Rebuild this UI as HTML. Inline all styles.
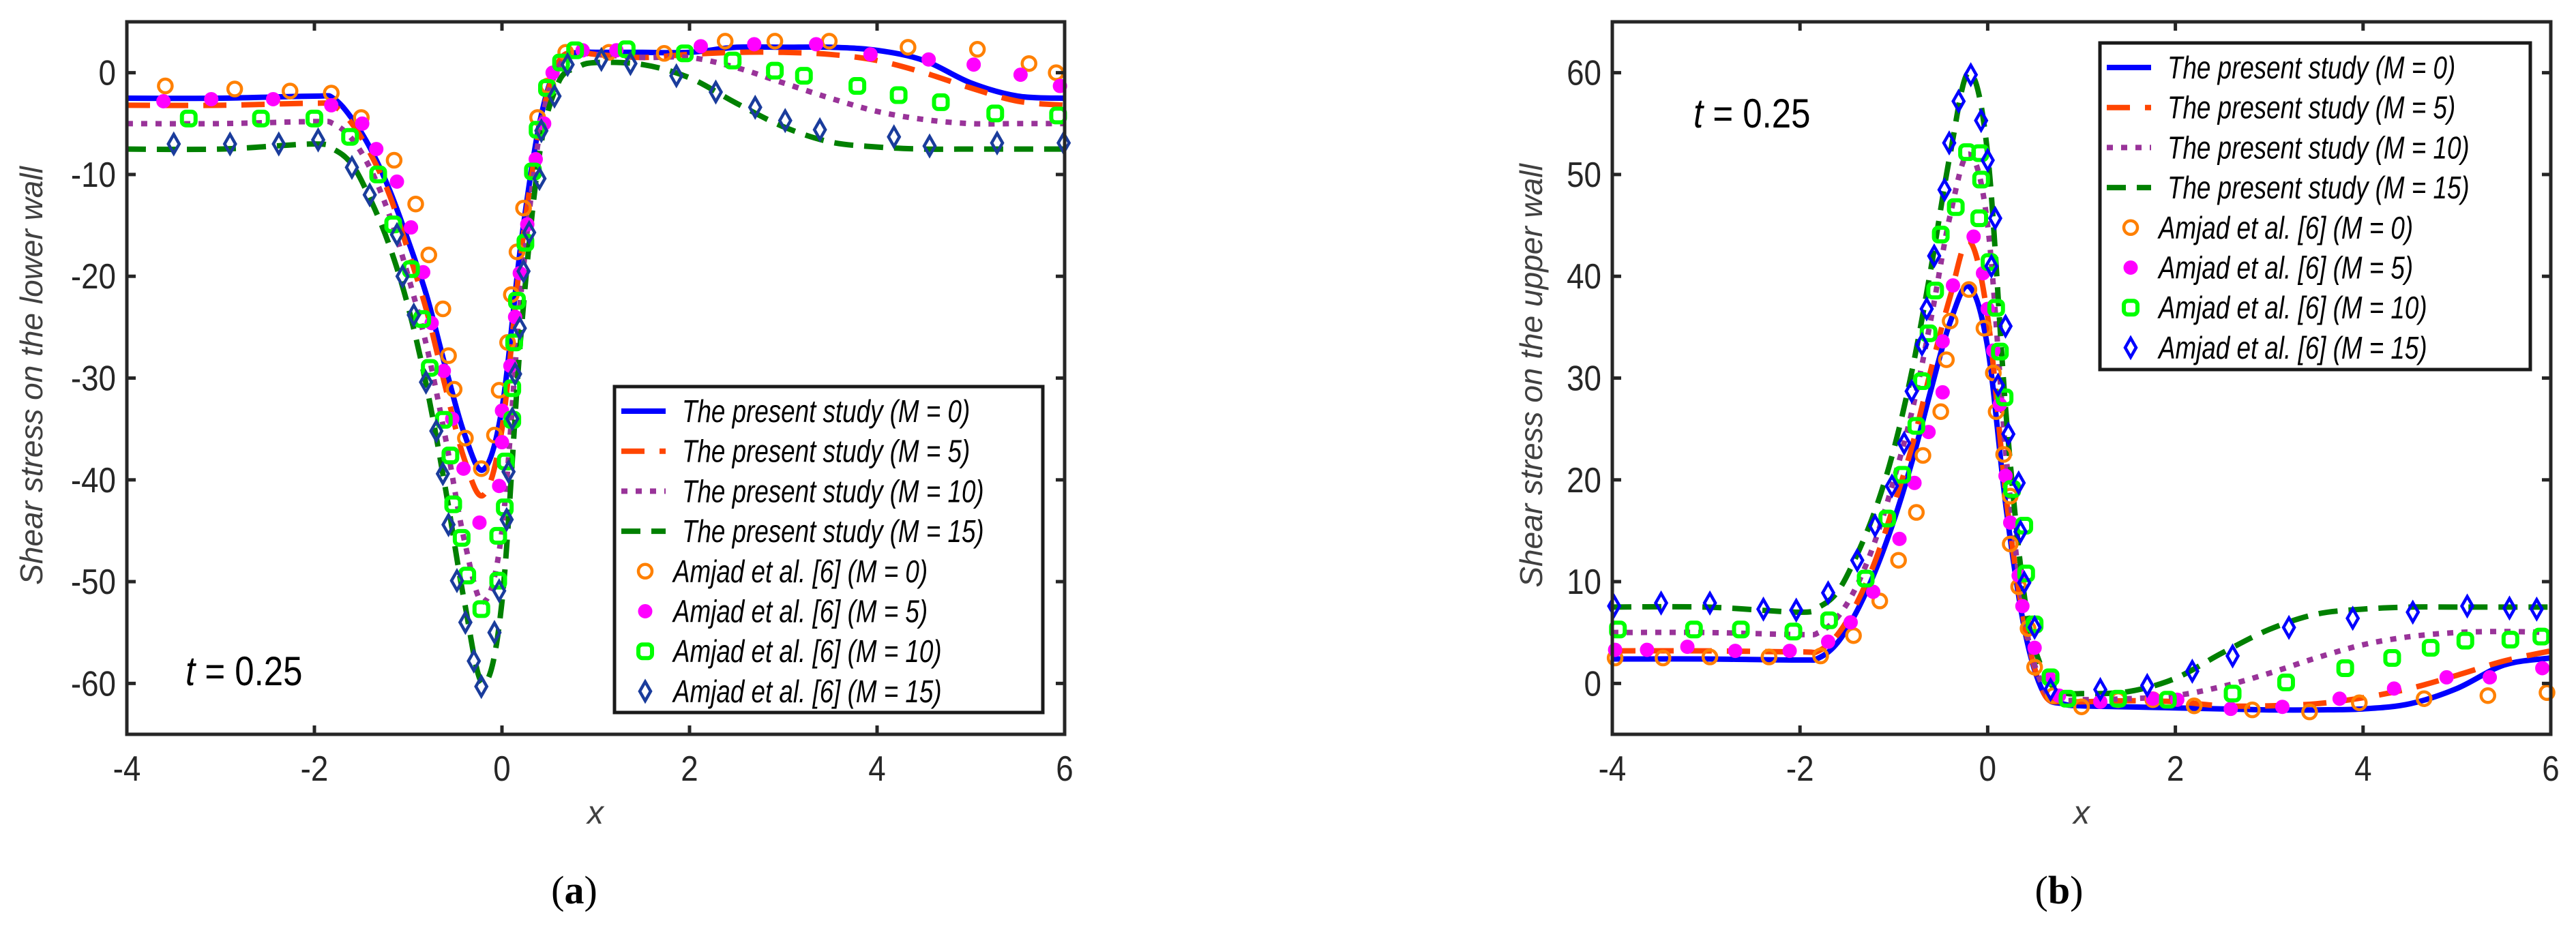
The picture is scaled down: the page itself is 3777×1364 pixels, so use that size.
<!DOCTYPE html>
<html><head><meta charset="utf-8"><style>html,body{margin:0;padding:0;background:#fff}svg{display:block}</style></head>
<body>
<svg id="fig" width="3777" height="1364" viewBox="0 0 3777 1364" xmlns="http://www.w3.org/2000/svg" font-family="'Liberation Sans', sans-serif"></svg>
<script>
// ---- shared x grid for model curves ----
const lineX = [-4,-3,-2,-1.8,-1.6,-1.4,-1.2,-1,-0.8,-0.6,-0.4,-0.2,0,0.2,0.4,0.6,0.8,1,1.5,2,2.5,3,3.5,4,4.5,5,5.5,6];
const xTicks = [-4,-2,0,2,4,6];
const yTicksA = [0,-10,-20,-30,-40,-50,-60];
const yTicksB = [0,10,20,30,40,50,60];
const seriesNames = ["The present study (M = 0)","The present study (M = 5)","The present study (M = 10)","The present study (M = 15)","Amjad et al. [6] (M = 0)","Amjad et al. [6] (M = 5)","Amjad et al. [6] (M = 10)","Amjad et al. [6] (M = 15)"];
// ---- panel (a) lines ----
const a_M0 = [-2.5,-2.5,-2.3,-2.5,-4.5,-7.5,-11.5,-16.5,-22,-29,-35.5,-39,-33,-17,-5,1,2,2,2,2,2.5,2.5,2.5,2.2,1.2,-1,-2.3,-2.5];
const a_M5 = [-3.2,-3.2,-3.0,-3.2,-5,-8,-12,-17.5,-23.5,-31,-38,-41.5,-35,-18,-5.5,1,2,1.8,1.5,1.8,2,2,1.8,1.2,0,-1.5,-2.8,-3.2];
const a_M10 = [-5,-5,-4.8,-5,-6.5,-9.5,-14,-20,-27,-36,-46,-52,-45,-22,-6,0.5,1.8,1.8,1.5,1.5,0.5,-1,-2.5,-3.8,-4.6,-5,-5,-5];
const a_M15 = [-7.5,-7.5,-7,-7.5,-9,-12.5,-17,-23,-31,-41,-52,-60,-52,-26,-8,-1,0.5,1,0.8,-0.5,-3,-5.3,-6.8,-7.3,-7.5,-7.5,-7.5,-7.5];
// ---- panel (a) markers ----
const a_o0 = [[-3.59,-1.3],[-2.85,-1.6],[-2.26,-1.8],[-1.82,-2],[-1.5,-4.4],[-1.15,-8.6],[-0.92,-12.9],[-0.78,-17.9],[-0.63,-23.2],[-0.57,-27.8],[-0.51,-31.1],[-0.39,-35.9],[-0.22,-38.9],[-0.08,-35.6],[-0.03,-31.2],[0.06,-26.5],[0.1,-21.8],[0.16,-17.6],[0.23,-13.3],[0.38,-4.4],[0.49,-1.3],[0.68,2],[1.14,2],[1.73,1.9],[2.38,3.1],[2.91,3.1],[3.49,3.1],[4.33,2.5],[5.07,2.3],[5.62,0.9],[5.91,0]];
const a_o5 = [[-3.61,-2.8],[-3.1,-2.6],[-2.44,-2.6],[-1.82,-3.2],[-1.49,-5],[-1.34,-7.5],[-1.12,-10.7],[-0.97,-15.2],[-0.84,-19.6],[-0.75,-24.6],[-0.62,-29.3],[-0.53,-34],[-0.41,-38.9],[-0.24,-44.2],[-0.03,-40.6],[0,-36.3],[0,-33.2],[0.09,-28.8],[0.14,-24],[0.19,-19.7],[0.27,-14.9],[0.36,-8.5],[0.45,-5],[0.54,0],[0.86,2.2],[1.22,2.2],[2.12,2.6],[2.69,2.8],[3.35,2.8],[3.93,1.8],[4.55,1.3],[5.03,0.8],[5.53,-0.2],[5.95,-1.3]];
const a_o10 = [[-3.34,-4.5],[-2.57,-4.5],[-2,-4.5],[-1.62,-6.3],[-1.32,-10],[-1.16,-14.9],[-0.97,-19.3],[-0.85,-24.2],[-0.77,-29],[-0.62,-34.1],[-0.55,-37.6],[-0.52,-42.4],[-0.43,-45.7],[-0.37,-49.4],[-0.22,-52.7],[-0.04,-49.9],[-0.04,-45.5],[0.03,-42.7],[0.04,-38.2],[0.11,-34.1],[0.11,-31],[0.13,-26.5],[0.16,-22.4],[0.25,-16.7],[0.33,-9.7],[0.38,-5.6],[0.48,-1.5],[0.63,1],[0.78,2.2],[1.33,2.3],[1.95,1.9],[2.46,1.2],[2.91,0.2],[3.22,-0.3],[3.79,-1.3],[4.23,-2.2],[4.68,-2.9],[5.26,-4],[5.93,-4.2]];
const a_o15 = [[-3.5,-7],[-2.9,-7],[-2.38,-7],[-1.96,-6.6],[-1.6,-9.3],[-1.41,-12],[-1.12,-15.9],[-1.06,-20],[-0.94,-23.8],[-0.81,-30.4],[-0.7,-35.2],[-0.63,-39.4],[-0.57,-44.4],[-0.48,-49.9],[-0.39,-54],[-0.3,-57.8],[-0.22,-60.3],[-0.08,-55],[-0.03,-50.9],[0.05,-43.9],[0.07,-39.2],[0.11,-34],[0.14,-29.6],[0.19,-25.1],[0.23,-19.5],[0.29,-15.7],[0.4,-10.4],[0.42,-5.7],[0.56,-2.3],[0.7,0.8],[1.06,1.3],[1.37,0.9],[1.86,-0.3],[2.28,-1.9],[2.7,-3.4],[3.02,-4.7],[3.39,-5.6],[4.18,-6.3],[4.56,-7.2],[5.28,-6.9],[5.99,-6.9]];
// ---- panel (b) lines ----
const b_M0 = [2.4,2.4,2.3,2.5,4,7,11,16,22,29,35.5,39,33,17,5,-1,-2,-2.2,-2.3,-2.4,-2.5,-2.6,-2.6,-2.5,-2,-0.5,1.8,2.5];
const b_M5 = [3.2,3.2,3.1,3.2,4.8,7.8,12,17.5,23.5,31,38,43.5,36,18,5.5,-1,-1.8,-1.8,-1.7,-1.8,-2.2,-2.2,-2,-1.4,-0.5,0.8,2.2,3.2];
const b_M10 = [5,5,4.8,5,6.5,9.5,14,20,27,36,46,52,45,22,6,-0.5,-1.6,-1.6,-1.5,-1.2,-0.3,1,2.5,3.8,4.6,5,5.1,5];
const b_M15 = [7.5,7.5,7,7.5,9,12.5,17,23,31,41,52,60,52,26,8,1,-0.8,-1,-0.8,0.5,3,5.3,6.8,7.3,7.5,7.5,7.5,7.5];
// ---- panel (b) markers ----
const b_o0 = [[-3.97,2.5],[-3.46,2.5],[-2.96,2.6],[-2.33,2.6],[-1.78,2.7],[-1.43,4.7],[-1.15,8.1],[-0.95,12.1],[-0.76,16.8],[-0.69,22.4],[-0.5,26.7],[-0.44,31.8],[-0.4,35.6],[-0.2,38.7],[-0.04,34.9],[0.06,30.5],[0.09,26.7],[0.17,22.5],[0.24,18.4],[0.24,13.7],[0.33,9.5],[0.43,5.4],[0.5,1.6],[0.7,-1.2],[1,-2.3],[1.39,-1.6],[1.76,-1.6],[2.2,-2.2],[2.82,-2.6],[3.43,-2.8],[3.96,-1.9],[4.65,-1.5],[5.33,-1.2],[5.96,-0.9]];
const b_o5 = [[-3.97,3.3],[-3.63,3.3],[-3.2,3.6],[-2.69,3.2],[-2.11,3.2],[-1.7,4.1],[-1.46,6],[-1.22,9],[-0.94,14.2],[-0.78,19.7],[-0.63,24.7],[-0.48,28.6],[-0.48,33.6],[-0.37,39.1],[-0.15,43.9],[-0.05,40.3],[0,36.8],[0.06,32.7],[0.13,27.4],[0.19,20.4],[0.24,15.8],[0.33,10.6],[0.37,7.6],[0.5,3.5],[0.65,0.6],[0.76,-1.2],[1.2,-1.8],[1.76,-1.5],[2.02,-1.6],[2.59,-2.5],[3.14,-2.3],[3.75,-1.5],[4.33,-0.5],[4.89,0.6],[5.35,0.6],[5.91,1.5]];
const b_o10 = [[-3.94,5.3],[-3.13,5.3],[-2.63,5.3],[-2.07,5.1],[-1.69,6.2],[-1.3,10.3],[-1.07,16.2],[-0.91,20.5],[-0.76,25.3],[-0.7,29.7],[-0.63,34.4],[-0.56,38.6],[-0.5,44.1],[-0.34,46.8],[-0.22,52.2],[-0.08,52.1],[-0.07,49.5],[-0.09,45.7],[0.02,41.4],[0.09,36.9],[0.13,32.6],[0.18,28.1],[0.26,19.1],[0.39,15.5],[0.41,10.8],[0.5,5.8],[0.67,0.6],[0.85,-1.5],[1.39,-1.5],[1.92,-1.6],[2.61,-1],[3.18,0.1],[3.81,1.5],[4.31,2.5],[4.72,3.5],[5.09,4.2],[5.57,4.3],[5.9,4.6]];
const b_o15 = [[-3.98,7.6],[-3.48,7.9],[-2.96,7.9],[-2.39,7.3],[-2.04,7.2],[-1.7,8.9],[-1.39,12.1],[-1.2,15.5],[-1.02,19.4],[-0.89,23.6],[-0.81,28.7],[-0.7,33.3],[-0.65,36.8],[-0.57,42],[-0.46,48.5],[-0.41,53.1],[-0.31,57.2],[-0.18,59.8],[-0.07,55.3],[0,51.4],[0.08,45.7],[0.04,41],[0.19,35.1],[0.11,29.3],[0.22,24.5],[0.33,19.7],[0.35,14.9],[0.39,9.9],[0.5,5.5],[0.67,-0.6],[1.2,-0.6],[1.7,-0.2],[2.18,1.2],[2.61,2.7],[3.21,5.5],[3.89,6.4],[4.53,7],[5.11,7.6],[5.56,7.4],[5.85,7.3]];

const NS = "http://www.w3.org/2000/svg";
const svg = document.getElementById('fig');
function mk(tag, attrs, parent){const e=document.createElementNS(NS,tag);for(const k in attrs)e.setAttribute(k,attrs[k]);(parent||svg).appendChild(e);return e;}

const lineStyles = [
 {stroke:'#0000ff', dash:null},
 {stroke:'#ff4500', dash:'34 22'},
 {stroke:'#993399', dash:'9 12'},
 {stroke:'#008000', dash:'28 16'}
];

function smoothPath(pts){
  let d = `M${pts[0][0].toFixed(1)},${pts[0][1].toFixed(1)}`;
  for(let i=0;i<pts.length-1;i++){
    const p0=pts[Math.max(0,i-1)],p1=pts[i],p2=pts[i+1],p3=pts[Math.min(pts.length-1,i+2)];
    const c1=[p1[0]+(p2[0]-p0[0])/6,p1[1]+(p2[1]-p0[1])/6];
    const c2=[p2[0]-(p3[0]-p1[0])/6,p2[1]-(p3[1]-p1[1])/6];
    d+=` C${c1[0].toFixed(1)},${c1[1].toFixed(1)} ${c2[0].toFixed(1)},${c2[1].toFixed(1)} ${p2[0].toFixed(1)},${p2[1].toFixed(1)}`;
  }
  return d;
}

function marker(g, kind, cx, cy, dark){
  let e;
  if(kind===0){ e=mk('circle',{cx,cy,r:10,fill:'none',stroke:'#ff8000','stroke-width':4.5},g); }
  else if(kind===1){ e=mk('circle',{cx,cy,r:10,fill:'#ff00ff',stroke:'#ff00ff','stroke-width':1},g); }
  else if(kind===2){ e=mk('rect',{x:cx-10,y:cy-10,width:20,height:20,rx:6,fill:'none',stroke:'#00ff00','stroke-width':6},g); }
  else { e=mk('path',{d:`M${cx},${cy-14} L${cx+8},${cy} L${cx},${cy+14} L${cx-8},${cy} Z`,fill:'none',stroke:dark,'stroke-width':4.5},g); }
  return e;
}

function panel(opt){
  const {L,R,T,B,ymin,ymax,yTicks,lines,marks,yTitle,tx,ty,leg,xlab,sub,id,dia} = opt;
  const g = mk('g',{});
  
  
  const sx = v => L + (v+4)/10*(R-L);
  const sy = v => T + (ymax-v)/(ymax-ymin)*(B-T);
  // lines
  lines.forEach((arr,k)=>{
    const pts = lineX.map((x,i)=>[sx(x),sy(arr[i])]);
    const p = mk('path',{d:smoothPath(pts),fill:'none',stroke:lineStyles[k].stroke,'stroke-width':8,'stroke-linejoin':'round'},g);
    if(lineStyles[k].dash) p.setAttribute('stroke-dasharray',lineStyles[k].dash);
    
    
  });
  marks.forEach((arr,k)=>{
    const mg = mk('g',{},g);
    
    
    arr.forEach(p=>{ marker(mg,k,sx(p[0]),sy(p[1]),dia); });
  });
  // frame
  const fr = mk('rect',{x:L,y:T,width:R-L,height:B-T,fill:'none',stroke:'#262626','stroke-width':5},g);
  
  
  xTicks.forEach(v=>{
    const x=sx(v);
    mk('line',{x1:x,y1:B,x2:x,y2:B-13,stroke:'#262626','stroke-width':5},g);
    mk('line',{x1:x,y1:T,x2:x,y2:T+13,stroke:'#262626','stroke-width':5},g);
    const t = mk('text',{x:0,y:0,'font-size':52,'text-anchor':'middle',fill:'#262626',transform:`translate(${x},${B+68}) scale(0.88,1)`},g);
    t.textContent = v<0 ? '-'+Math.abs(v) : String(v);
    
    
  });
  yTicks.forEach(v=>{
    const y=sy(v);
    mk('line',{x1:L,y1:y,x2:L+13,y2:y,stroke:'#262626','stroke-width':5},g);
    mk('line',{x1:R,y1:y,x2:R-13,y2:y,stroke:'#262626','stroke-width':5},g);
    const t = mk('text',{x:0,y:0,'font-size':52,'text-anchor':'end',fill:'#262626',transform:`translate(${L-16},${y+18}) scale(0.88,1)`},g);
    t.textContent = v<0 ? '-'+Math.abs(v) : String(v);
    
    
  });
  const yt = mk('text',{x:0,y:0,'font-size':46,'font-style':'italic','text-anchor':'middle',fill:'#404040',transform:`translate(${yTitle[0]},${yTitle[1]}) rotate(-90)`},g);
  yt.textContent = yTitle[2];
  
  
  const xt = mk('text',{x:xlab[0],y:xlab[1],'font-size':48,'font-style':'italic','text-anchor':'middle',fill:'#404040'},g);
  xt.textContent='x';
  
  
  const tl = mk('text',{x:0,y:0,'font-size':60,fill:'#000',transform:`translate(${tx},${ty}) scale(0.85,1)`},g);
  tl.innerHTML = '<tspan font-style="italic">t</tspan> = 0.25';
  
  
  // legend
  const lg = mk('g',{},g);
  
  
  mk('rect',{x:leg.x,y:leg.y,width:leg.w,height:leg.h,fill:'#fff',stroke:'#1a1a1a','stroke-width':5},lg);
  seriesNames.forEach((nm,k)=>{
    const yy = leg.y + 36 + k*leg.dy;
    const eg = mk('g',{},lg);
    
    
    if(k<4){
      const l = mk('line',{x1:leg.x+10,y1:yy,x2:leg.x+75,y2:yy,stroke:lineStyles[k].stroke,'stroke-width':8},eg);
      if(lineStyles[k].dash) l.setAttribute('stroke-dasharray',lineStyles[k].dash);
    } else {
      marker(eg,k-4,leg.x+45,yy,dia);
    }
    const t = mk('text',{x:0,y:0,'font-size':46,'font-style':'italic',fill:'#000',transform:`translate(${leg.x+(k<4?99:86)},${yy+16}) scale(0.8,1)`},eg);
    t.textContent = nm;
  });
  const sl = mk('text',{x:sub[0],y:sub[1],'font-size':58,'font-family':"'Liberation Serif', serif",'text-anchor':'middle',fill:'#000'},g);
  sl.innerHTML = '(<tspan font-weight="bold">'+sub[2]+'</tspan>)';
  
  
}

panel({id:'a',L:186,R:1561,T:32,B:1077,ymin:-65,ymax:5,yTicks:yTicksA,
  lines:[a_M0,a_M5,a_M10,a_M15],marks:[a_o0,a_o5,a_o10,a_o15],dia:'#1a3c9c',
  yTitle:[62,551,'Shear stress on the lower wall'],tx:272,ty:1005,
  leg:{x:901,y:567,w:628,h:478,dy:58.7},xlab:[873,1208],sub:[842,1325,'a']});
panel({id:'b',L:2364,R:3740,T:32,B:1077,ymin:-5,ymax:65,yTicks:yTicksB,
  lines:[b_M0,b_M5,b_M10,b_M15],marks:[b_o0,b_o5,b_o10,b_o15],dia:'#0000ff',
  yTitle:[2261,551,'Shear stress on the upper wall'],tx:2483,ty:187,
  leg:{x:3079,y:63,w:631,h:479,dy:58.7},xlab:[3052,1208],sub:[3019,1325,'b']});
</script>
</body></html>
